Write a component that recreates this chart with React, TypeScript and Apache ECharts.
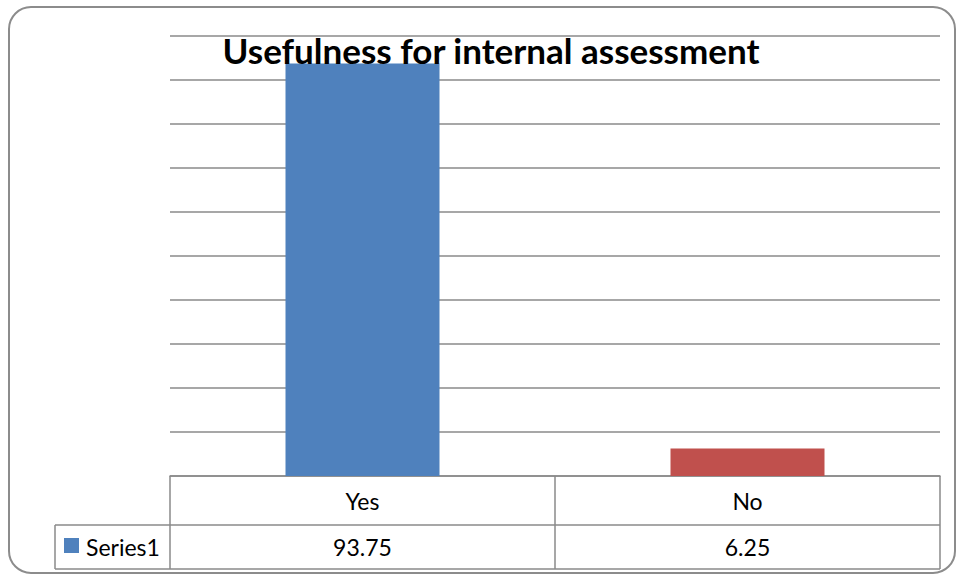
import React, { useEffect, useRef } from "react";
import * as echarts from "echarts";

const titleText = "Usefulness for internal assessment";
const categories = ["Yes", "No"];
const seriesName = "Series1";
const values = [93.75, 6.25];
const valueLabels = ["93.75", "6.25"];
const barColors = ["#4F81BD", "#C0504D"];

export default function App() {
  const ref = useRef<HTMLDivElement>(null);
  useEffect(() => {
    if (!ref.current) return;
    const chart = echarts.init(ref.current, null, { renderer: "svg" });
    const W = 956;
    const H = 575;
    const gLeft = 170;
    const gRight = 940;
    const gTop = 36;
    const gBottom = 476;
    const row1 = 525;
    const row2 = 569;
    const legLeft = 55;
    const lineColor = "#8a8a8a";
    const font = "Lato, 'Open Sans', sans-serif";
    const catW = (gRight - gLeft) / categories.length;

    const graphics: any[] = [];
    graphics.push({
      type: "rect",
      shape: { x: 9, y: 7, width: 946, height: 566, r: 22 },
      style: { fill: "none", stroke: "#8c8c8c", lineWidth: 2 },
      z: 0,
    });
    const line = (x1: number, y1: number, x2: number, y2: number) => ({
      type: "line",
      shape: { x1, y1, x2, y2 },
      style: { stroke: lineColor, lineWidth: 1.5 },
      z: 10,
    });
    graphics.push(line(gLeft, gBottom, gLeft, row2));
    graphics.push(line(legLeft, row1, gRight, row1));
    graphics.push(line(legLeft, row2, gRight, row2));
    graphics.push(line(legLeft, row1, legLeft, row2));
    for (let i = 1; i <= categories.length; i++) {
      graphics.push(line(gLeft + catW * i, gBottom, gLeft + catW * i, row2));
    }
    categories.forEach((c, i) => {
      graphics.push({
        type: "text",
        x: gLeft + catW * (i + 0.5),
        y: (gBottom + row1) / 2,
        style: { text: c, fill: "#000", font: `23px ${font}`, align: "center", verticalAlign: "middle" },
        z: 10,
      });
      graphics.push({
        type: "text",
        x: gLeft + catW * (i + 0.5),
        y: (row1 + row2) / 2,
        style: { text: valueLabels[i], fill: "#000", font: `23px ${font}`, align: "center", verticalAlign: "middle" },
        z: 10,
      });
    });
    graphics.push({
      type: "rect",
      shape: { x: 64, y: 538, width: 15, height: 15 },
      style: { fill: barColors[0] },
      z: 10,
    });
    graphics.push({
      type: "text",
      x: 86,
      y: (row1 + row2) / 2,
      style: { text: seriesName, fill: "#000", font: `23px ${font}`, align: "left", verticalAlign: "middle" },
      z: 10,
    });

    chart.setOption({
      animation: false,
      title: {
        text: titleText,
        left: 486,
        textAlign: "center",
        top: 27,
        textStyle: { fontFamily: font, fontWeight: "bold", fontSize: 35, color: "#000" },
      },
      grid: { left: gLeft, right: W - gRight, top: gTop, bottom: H - gBottom, containLabel: false },
      xAxis: {
        type: "category",
        data: categories,
        axisLine: { show: true, lineStyle: { color: lineColor, width: 1.5 } },
        axisTick: { show: false },
        axisLabel: { show: false },
        splitLine: { show: false },
      },
      yAxis: {
        type: "value",
        min: 0,
        max: 100,
        interval: 10,
        axisLine: { show: false },
        axisTick: { show: false },
        axisLabel: { show: false },
        splitLine: { show: true, lineStyle: { color: lineColor, width: 1.5 } },
      },
      series: [
        {
          name: seriesName,
          type: "bar",
          barWidth: "40%",
          data: values.map((v, i) => ({ value: v, itemStyle: { color: barColors[i] } })),
          z: 2,
        },
      ],
      graphic: graphics,
    });
    return () => chart.dispose();
  }, []);
  return (
    <div
      ref={ref}
      style={{ position: "fixed", left: 0, top: 0, width: 956, height: 575, background: "#fff" }}
    />
  );
}
